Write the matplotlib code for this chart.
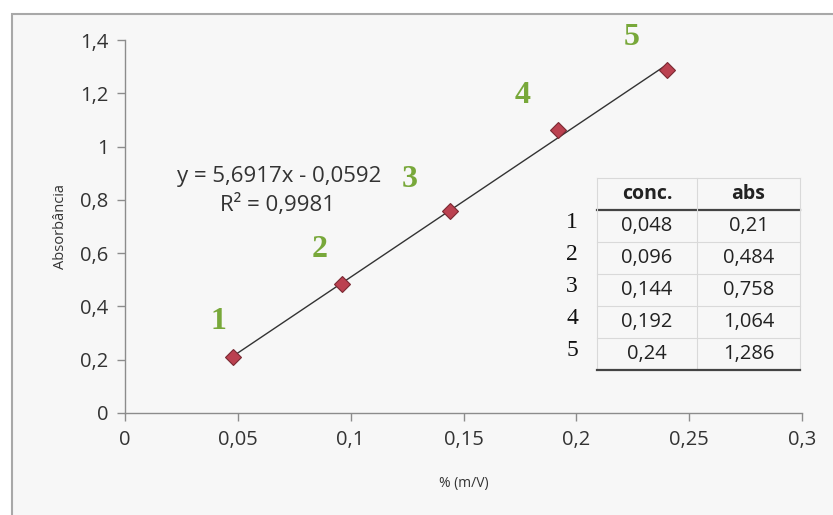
import matplotlib
matplotlib.use("Agg")
import matplotlib.pyplot as plt
import numpy as np
from matplotlib.patches import Rectangle
from matplotlib.lines import Line2D

conc = [0.048, 0.096, 0.144, 0.192, 0.24]
absb = [0.21, 0.484, 0.758, 1.064, 1.286]
conc_labels = ["0,048", "0,096", "0,144", "0,192", "0,24"]
abs_labels = ["0,21", "0,484", "0,758", "1,064", "1,286"]
point_ids = ["1", "2", "3", "4", "5"]
slope, intercept = 5.6917, -0.0592
eq_line1 = "y = 5,6917x - 0,0592"
eq_line2 = "R² = 0,9981"
xticks = [0, 0.05, 0.1, 0.15, 0.2, 0.25, 0.3]
xtick_labels = ["0", "0,05", "0,1", "0,15", "0,2", "0,25", "0,3"]
yticks = [0, 0.2, 0.4, 0.6, 0.8, 1.0, 1.2, 1.4]
ytick_labels = ["0", "0,2", "0,4", "0,6", "0,8", "1", "1,2", "1,4"]

W, H = 833, 515
fig = plt.figure(figsize=(W / 100, H / 100), dpi=100)
fig.patch.set_facecolor("white")
plt.rcParams['font.family'] = ['Open Sans', 'DejaVu Sans']

# outer chart border
fig.patches.append(Rectangle((12 / W, -0.02), 1.0, 1 - 14 / H + 0.02, transform=fig.transFigure,
                             facecolor="#f7f7f7", edgecolor="#a8a8a8", lw=1.5, zorder=-10))

ax = fig.add_axes([125 / W, 1 - 413 / H, (802 - 125) / W, (413 - 40) / H])
ax.set_zorder(5)
ax.set_facecolor("none")
ax.set_xlim(0, 0.3)
ax.set_ylim(0, 1.4)
for s in ["top", "right"]:
    ax.spines[s].set_visible(False)
for s in ["left", "bottom"]:
    ax.spines[s].set_color("#8c8c8c")
    ax.spines[s].set_linewidth(1.0)
ax.set_xticks(xticks)
ax.set_xticklabels(xtick_labels)
ax.set_yticks(yticks)
ax.set_yticklabels(ytick_labels)
ax.tick_params(axis="both", colors="#8c8c8c", labelcolor="#333333", labelsize=14.5, length=6, width=1.0)
ax.tick_params(axis="x", pad=6)
ax.tick_params(axis="y", pad=6)

ax.set_xlabel("% (m/V)", fontsize=10, color="#333333")
ax.xaxis.set_label_coords(0.5, -63 / 373)
ax.set_ylabel("Absorbância", fontsize=10.5, color="#333333")
ax.yaxis.set_label_coords(-(125 - 68) / 677, (413 - 226) / 373)

# trendline
xs = np.array([conc[0], conc[-1]])
ax.plot(xs, slope * xs + intercept, color="#333333", lw=1.0, zorder=2)
ax.plot(conc, absb, linestyle="none", marker="D", markersize=8, markerfacecolor="#bb4150",
        markeredgecolor="#7a2a33", markeredgewidth=0.8, zorder=3)

ax.text(0.0683, 0.886, eq_line1, ha="center", va="center", fontsize=16, color="#333333")
ax.text(0.0677, 0.781, eq_line2, ha="center", va="center", fontsize=16, color="#333333")

# green point ids (positions in data coords)
id_pos = [(0.0412, 0.342), (0.0864, 0.612), (0.1263, 0.875), (0.1764, 1.193), (0.2246, 1.411)]
for lab, (px, py) in zip(point_ids, id_pos):
    ax.text(px, py, lab, ha="center", va="center", fontsize=23, color="#78a83a",
            fontweight="bold", family="Liberation Serif", clip_on=False)

# table
x0, xm, x1 = 597, 697, 800
ytop, yhead = 178, 210
row_h = 32
def fx(px): return px / W
def fy(py): return 1 - py / H
tl_color = "#d9d9d9"
# header
fig.text(fx((x0 + xm) / 2), fy((ytop + yhead) / 2), "conc.", ha="center", va="center",
         fontsize=14, fontweight="bold", color="#222222")
fig.text(fx((xm + x1) / 2), fy((ytop + yhead) / 2), "abs", ha="center", va="center",
         fontsize=14, fontweight="bold", color="#222222")
fig.lines.append(Line2D([fx(x0), fx(x1)], [fy(yhead), fy(yhead)], color="#444444", lw=1.6,
                        transform=fig.transFigure))
fig.lines.append(Line2D([fx(x0), fx(x1)], [fy(ytop), fy(ytop)], color=tl_color, lw=0.8,
                        transform=fig.transFigure))
ybot = yhead + row_h * len(conc_labels)
for xv in [x0, xm, x1]:
    fig.lines.append(Line2D([fx(xv), fx(xv)], [fy(ytop), fy(ybot)], color=tl_color, lw=0.8,
                            transform=fig.transFigure))
for i, (c, a, pid) in enumerate(zip(conc_labels, abs_labels, point_ids)):
    yc = yhead + row_h * (i + 0.5)
    fig.text(fx((x0 + xm) / 2), fy(yc), c, ha="center", va="center", fontsize=14.5, color="#222222")
    fig.text(fx((xm + x1) / 2), fy(yc), a, ha="center", va="center", fontsize=14.5, color="#222222")
    fig.text(fx(572), fy(yc - 4), pid, ha="center", va="center", fontsize=17, color="#111111",
             family="Liberation Serif")
    if i < len(conc_labels) - 1:
        yl = yhead + row_h * (i + 1)
        fig.lines.append(Line2D([fx(x0), fx(x1)], [fy(yl), fy(yl)], color=tl_color, lw=0.8,
                                transform=fig.transFigure))
fig.lines.append(Line2D([fx(x0), fx(x1)], [fy(ybot), fy(ybot)], color="#444444", lw=1.6,
                        transform=fig.transFigure))

fig.savefig("out.png", dpi=100)
